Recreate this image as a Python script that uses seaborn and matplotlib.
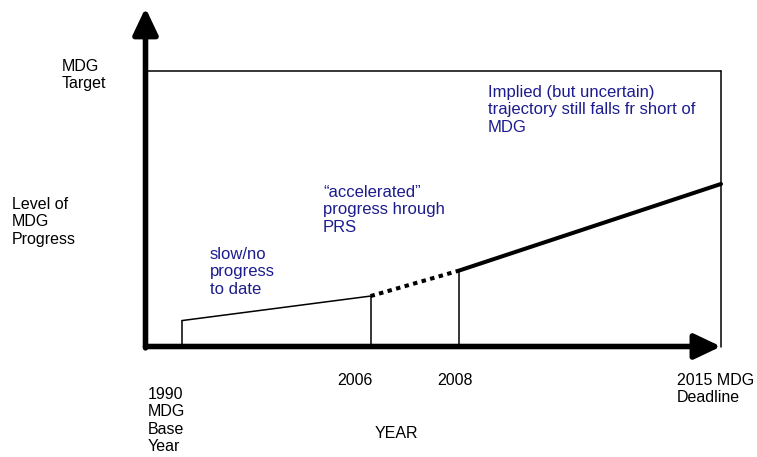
import matplotlib

matplotlib.use("Agg")
import matplotlib.pyplot as plt
import pandas as pd
import seaborn as sns

# schematic time axis: 0 = origin, 100 = the 2015 deadline
years = ["1990", "2006", "2008", "2015"]
year_pos = [6.3, 39.1, 54.4, 100.0]
# level of progress: 0 = base line, 100 = MDG target
progress = [9.4, 18.3, 27.5, 59.0]
target_level = 100.0

phase_names = ["slow", "accelerated", "implied"]
phase_text = [
    "slow/no\nprogress\nto date",
    "\u201caccelerated\u201d\nprogress hrough\nPRS",
    "Implied (but uncertain)\ntrajectory still falls fr short of\nMDG",
]
year_text = ["1990\nMDG\nBase\nYear", "2006", "2008", "2015 MDG\nDeadline"]

W, H = 757, 457
BLUE = "#1c1c8e"


def fig_xy(px, py):
    return px / W, 1 - py / H


def main() -> None:
    sns.set_theme(style="white")
    plt.rcParams["font.family"] = ["Liberation Sans", "DejaVu Sans"]
    plt.rcParams["text.color"] = "black"

    fig = plt.figure(figsize=(W / 100, H / 100), dpi=100)
    ax = fig.add_axes([145.5 / W, (H - 346.5) / H, 575.5 / W, 275.5 / H])
    ax.set_xlim(0, 100)
    ax.set_ylim(0, 100)
    ax.axis("off")

    df = pd.DataFrame({"x": year_pos, "y": progress})
    seg_styles = [
        dict(lw=1.1, ls="-"),
        dict(lw=2.9, ls=(0, (1.1, 1.1)), dash_capstyle="butt"),
        dict(lw=2.9, ls="-"),
    ]
    for i, name in enumerate(phase_names):
        seg = df.iloc[i:i + 2]
        sns.lineplot(data=seg, x="x", y="y", ax=ax, color="black",
                     clip_on=False, **seg_styles[i])

    # drop lines at the milestone years
    ax.vlines(year_pos[:3], 0, progress[:3], color="black", lw=1.1)

    # MDG target box
    ax.plot([0, 100], [target_level, target_level], color="black", lw=1.1,
            clip_on=False)
    ax.plot([100, 100], [0, target_level], color="black", lw=1.1,
            clip_on=False)

    # axes arrows
    arrow = dict(arrowstyle="-|>,head_length=0.8,head_width=0.38",
                 lw=4, color="black", shrinkA=0, shrinkB=0,
                 mutation_scale=20)
    ax.annotate("", xy=(0, 122.9), xytext=(0, -0.5), arrowprops=arrow,
                annotation_clip=False)
    ax.annotate("", xy=(100, 0), xytext=(0, 0), arrowprops=arrow,
                annotation_clip=False)

    # labels (pixel layout)
    black_pos = [(148, 387), (337, 373), (437, 373), (677, 373)]
    for txt, (px, py) in zip(year_text, black_pos):
        fig.text(*fig_xy(px, py), txt, ha="left", va="top", fontsize=11.5,
                 color="black")
    fig.text(*fig_xy(375, 426), "YEAR", ha="left", va="top", fontsize=11.5,
             color="black")
    fig.text(*fig_xy(62, 59), "MDG\nTarget", ha="left", va="top",
             fontsize=11.5, color="black")
    fig.text(*fig_xy(12, 197), "Level of\nMDG\nProgress", ha="left",
             va="top", fontsize=11.5, color="black")

    blue_pos = [(210, 247), (323, 185), (488, 85)]
    for txt, (px, py) in zip(phase_text, blue_pos):
        fig.text(*fig_xy(px, py), txt, ha="left", va="top", fontsize=12,
                 color=BLUE)

    fig.savefig("out.png", dpi=100)
    plt.close(fig)


if __name__ == "__main__":
    main()
